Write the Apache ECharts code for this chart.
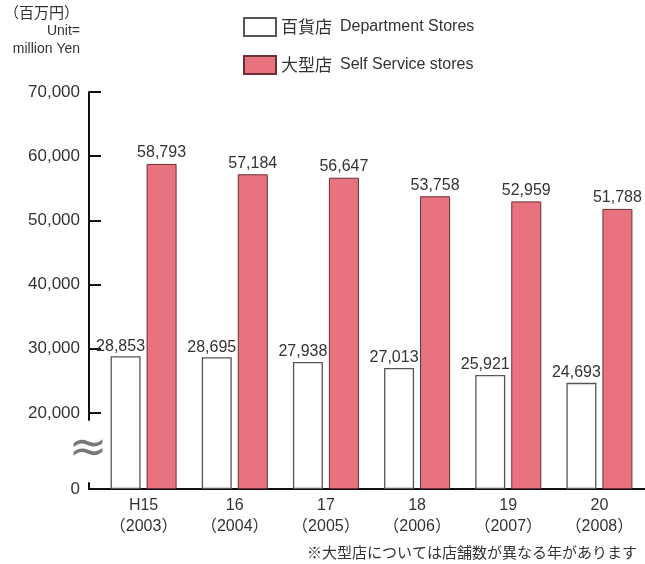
<!DOCTYPE html>
<html><head><meta charset="utf-8">
<script src="https://cdn.jsdelivr.net/npm/echarts@6/dist/echarts.min.js"></script>
<style>html,body{margin:0;padding:0;background:#fff}#c{width:645px;height:564px}</style>
</head><body><div id="c"></div>
<script>
const categories = ['H15\n（2003）','16\n（2004）','17\n（2005）','18\n（2006）','19\n（2007）','20\n（2008）'];
const deptStores = [28853, 28695, 27938, 27013, 25921, 24693];
const selfService = [58793, 57184, 56647, 53758, 52959, 51788];
const seriesNames = ['百貨店 Department Stores', '大型店 Self Service stores'];
const yTicks = [0, 20000, 30000, 40000, 50000, 60000, 70000];

const fmt = v => String(v).replace(/\B(?=(\d{3})+(?!\d))/g, ',');
const FONT = '"Liberation Sans", Arial, "Noto Sans CJK JP", sans-serif';
const chart = echarts.init(document.getElementById('c'));
chart.setOption({
  animation: false,
  textStyle: { fontFamily: FONT },
  grid: { left: 98, right: -3, top: 92, bottom: 75, containLabel: false },
  legend: {
    orient: 'vertical', left: 238, top: 12, itemWidth: 32, itemHeight: 18, itemGap: 18,
    selectedMode: false, icon: 'rect',
    formatter: name => { const i = name.indexOf(' '); return '{c|' + name.slice(0, i) + '}{e|' + name.slice(i + 1) + '}'; },
    textStyle: { fontSize: 16, color: '#333', fontFamily: FONT,
      rich: { c: { fontSize: 17, color: '#333', fontFamily: '"Noto Sans CJK JP"', padding: [0, 8, 0, 0] },
              e: { fontSize: 16, color: '#333', fontFamily: FONT } } },
    data: seriesNames
  },
  xAxis: {
    type: 'category', data: categories,
    axisLine: { lineStyle: { color: '#111', width: 2 } },
    axisTick: { show: false },
    axisLabel: { fontSize: 16, color: '#333', lineHeight: 21, margin: 6 }
  },
  yAxis: {
    type: 'value', min: 0, max: 70000, interval: 10000, offset: 9,
    splitLine: { show: false },
    axisLine: { show: true, lineStyle: { color: '#111', width: 2 } },
    axisTick: { show: true, inside: true, length: 12, lineStyle: { color: '#111', width: 2 },
      customValues: yTicks },
    axisLabel: { fontSize: 17, color: '#333', margin: 9, customValues: yTicks,
      formatter: v => fmt(v) },
    breaks: [{ start: 1000, end: 19000, gap: 9838 }],
    breakArea: { show: false }
  },
  series: [
    {
      name: seriesNames[0], type: 'bar', data: deptStores, barWidth: 30, barGap: '20%',
      itemStyle: { color: '#ffffff', borderColor: '#555', borderWidth: 1.3 },
      label: { show: true, position: 'top', distance: 2, offset: [-5, 0], fontSize: 16, color: '#333', formatter: p => fmt(p.value) }
    },
    {
      name: seriesNames[1], type: 'bar', data: selfService, barWidth: 30, barGap: '20%',
      itemStyle: { color: '#e8737f', borderColor: '#6a3035', borderWidth: 1 },
      label: { show: true, position: 'top', distance: 3, fontSize: 16, color: '#333', formatter: p => fmt(p.value) }
    }
  ],
  graphic: [
    { type: 'text', left: 4, top: 5, style: { text: '（百万円）', fill: '#333', font: '15px "Noto Sans CJK JP"' } },
    { type: 'text', right: 565, top: 24, style: { text: 'Unit=', fontSize: 14, fill: '#333', align: 'right', fontFamily: FONT } },
    { type: 'text', right: 565, top: 42, style: { text: 'million Yen', fontSize: 14, fill: '#333', align: 'right', fontFamily: FONT } },
    { type: 'line', shape: { x1: 88, y1: 489, x2: 99, y2: 489 }, style: { stroke: '#111', lineWidth: 2 } },
    { type: 'rect', shape: { x: 81, y: 440, width: 16, height: 20 }, style: { fill: '#fff' }, z: 100 },
    { type: 'text', x: 88, y: 450, z: 101, style: { text: '≈', fontSize: 46, fill: '#777', align: 'center', verticalAlign: 'middle', fontFamily: 'DejaVu Sans' } },
    { type: 'text', right: 8, top: 545, style: { text: '※大型店については店舗数が異なる年があります', fill: '#333', font: '15px "Noto Sans CJK JP"' } }
  ]
});
</script></body></html>
